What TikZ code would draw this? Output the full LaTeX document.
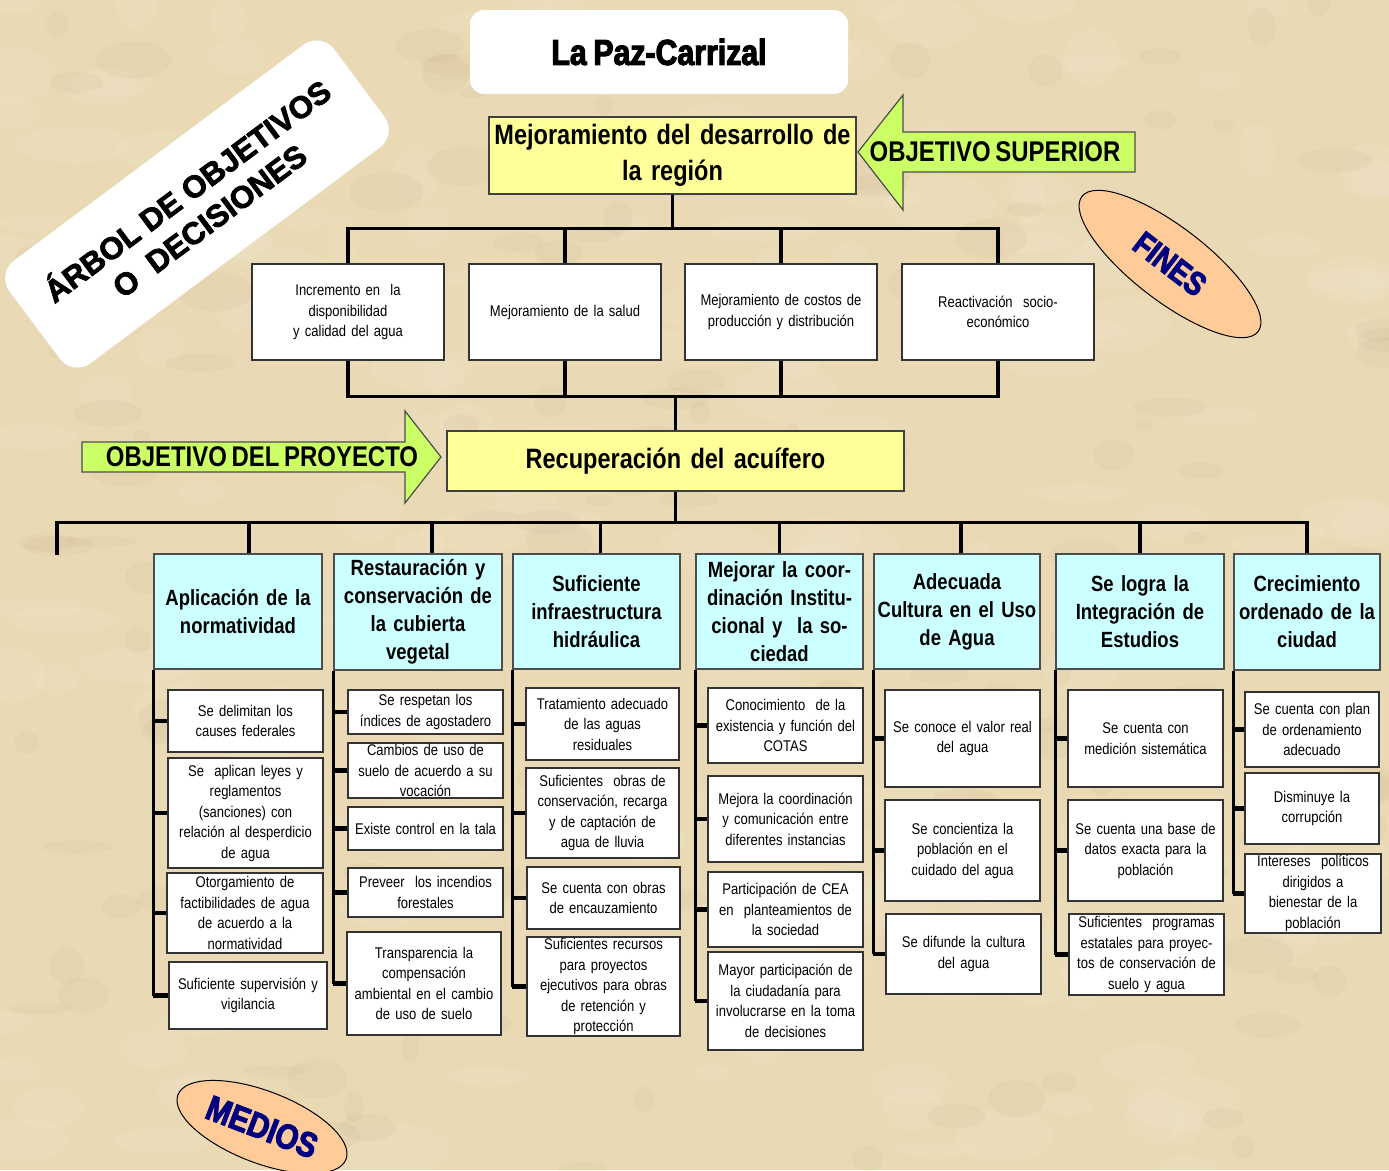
\documentclass[tikz,border=0pt]{standalone}
\usepackage{fontspec}
\setmainfont[FakeStretch=0.84,WordSpace=0.7]{Liberation Sans}
\newfontfamily\heavyN[FakeStretch=0.84,WordSpace=0.8,BoldFeatures={FakeBold=3}]{Liberation Sans}
\newfontfamily\heavyW[BoldFeatures={FakeBold=2.5}]{Liberation Sans}
\usetikzlibrary{shapes.geometric}
\definecolor{bgc}{RGB}{233,217,181}
\definecolor{yel}{RGB}{255,255,153}
\definecolor{cyanb}{RGB}{204,255,255}
\definecolor{grn}{RGB}{204,255,102}
\definecolor{peach}{RGB}{255,204,153}
\definecolor{navyb}{RGB}{0,0,128}
\newcommand\mybox[7]{%
 \pgfmathsetmacro\bxw{#5-(#3)}%
 \pgfmathsetmacro\bxh{#6-(#4)}%
 \pgfmathsetmacro\bxt{#5-(#3)-3}%
 \pgfmathsetmacro\bxcx{(#3+#5)/2}%
 \pgfmathsetmacro\bxcy{(#4+#6)/2}%
 \node[#1, minimum width=\bxw pt, minimum height=\bxh pt, text width=\bxt pt] (#2) at (\bxcx,\bxcy) {#7};}
\newcommand\mySpine[2]{\draw[spinest] (#1.south west) -- (#1.south west |- #2.west);}
\newcommand\myTick[2]{\draw[tickst] (#1.south west |- #2.west) -- (#2.west);}
\begin{document}
\begin{tikzpicture}[x=1pt,y=-1pt,
  conn/.style={line width=3.5pt,black},
  spinest/.style={line width=3pt,black},
  tickst/.style={line width=4.5pt,black},
  fbox/.style={draw=black!80,line width=1.2pt,fill=white,align=center,inner xsep=1pt,inner ysep=0pt,font=\fontsize{15.5}{20.5}\selectfont},
  hbox/.style={draw=black!70,line width=1.2pt,fill=cyanb,align=center,inner xsep=1pt,inner ysep=0pt,font=\bfseries\fontsize{22}{28}\selectfont},
  ybox/.style={draw=black!75,line width=1.2pt,fill=yel,align=center,inner xsep=1pt,inner ysep=0pt,font=\bfseries\fontsize{28}{36}\selectfont},
  arrowshape/.style={draw=black!70,line width=1.2pt,fill=grn},
  arrowtext/.style={font=\bfseries\fontsize{28.5}{30}\selectfont},
  oval/.style={ellipse,draw=black,line width=1pt,fill=peach,text=navyb}
]
\useasboundingbox (0,0) rectangle (1389,1170);
\fill[bgc] (0,0) rectangle (1389,1170);
\pgfmathsetseed{11}
\foreach \i in {1,...,220}{
  \pgfmathsetmacro\rx{rnd*1389}\pgfmathsetmacro\ry{rnd*1170}
  \pgfmathsetmacro\ra{15+rnd*45}\pgfmathsetmacro\rb{8+rnd*22}
  \fill[white,opacity=0.06] (\rx,\ry) ellipse [x radius=\ra pt,y radius=\rb pt];
}
\foreach \i in {1,...,160}{
  \pgfmathsetmacro\rx{rnd*1389}\pgfmathsetmacro\ry{rnd*1170}
  \pgfmathsetmacro\ra{8+rnd*30}\pgfmathsetmacro\rb{5+rnd*15}
  \fill[brown!60!black,opacity=0.035] (\rx,\ry) ellipse [x radius=\ra pt,y radius=\rb pt];
}

% title and labels
\node[fill=white,rounded corners=14pt,minimum width=378pt,minimum height=84pt,
  font=\heavyN\bfseries\fontsize{36}{40}\selectfont] (title) at (659,52) {La Paz-Carrizal};
\node[rotate=36.7,fill=white,rounded corners=22pt,minimum width=405pt,minimum height=128pt,
  align=center,font=\heavyW\bfseries\fontsize{31}{37}\selectfont] (arbol) at (197,204)
  {ÁRBOL DE OBJETIVOS\\O\ \ DECISIONES};
\node[oval,minimum width=222pt,minimum height=74pt,rotate=-37.5,
  font=\heavyN\bfseries\fontsize{33}{36}\selectfont] (fines) at (1170,264) {FINES};
\node[oval,minimum width=180pt,minimum height=72pt,rotate=-21,
  font=\heavyN\bfseries\fontsize{35}{38}\selectfont] (medios) at (262,1127) {MEDIOS};

% arrows
\draw[arrowshape] (858,152) -- (903,95) -- (903,132) -- (1135,132) -- (1135,172) -- (903,172) -- (903,210) -- cycle;
\node[arrowtext] (supl) at (995,152) {OBJETIVO SUPERIOR};
\draw[arrowshape] (82,442) -- (405,442) -- (405,411) -- (441,457) -- (405,503) -- (405,472) -- (82,472) -- cycle;
\node[arrowtext] (proyl) at (262,457) {OBJETIVO DEL PROYECTO};

% yellow boxes
\mybox{ybox}{top}{489}{117}{856}{194}{Mejoramiento del desarrollo de\\la región}
\mybox{ybox}{proj}{447}{431}{904}{491}{Recuperación del acuífero}

% fines boxes
\mybox{fbox}{f1}{252}{264}{444}{360}{Incremento en\ \ la\\disponibilidad\\y calidad del agua}
\mybox{fbox}{f2}{469}{264}{661}{360}{Mejoramiento de la salud}
\mybox{fbox}{f3}{685}{264}{877}{360}{Mejoramiento de costos de\\producción y distribución}
\mybox{fbox}{f4}{902}{264}{1094}{360}{Reactivación\ \ socio-\\económico}

% headers
\mybox{hbox}{h1}{154}{554}{322}{669}{Aplicación de la\\normatividad}
\mybox{hbox}{h2}{334}{554}{502}{670}{Restauración y\\conservación de\\la cubierta\\vegetal}
\mybox{hbox}{h3}{513}{554}{680}{669}{Suficiente\\infraestructura\\hidráulica}
\mybox{hbox}{h4}{696}{554}{863}{669}{Mejorar la coor-\\dinación Institu-\\cional y\ \ la so-\\ciedad}
\mybox{hbox}{h5}{874}{554}{1040}{669}{Adecuada\\Cultura en el Uso\\de Agua}
\mybox{hbox}{h6}{1056}{554}{1224}{669}{Se logra la\\Integración de\\Estudios}
\mybox{hbox}{h7}{1234}{554}{1380}{670}{Crecimiento\\ordenado de la\\ciudad}

% column 1
\mybox{fbox}{c1a}{168}{690}{323}{752}{Se delimitan los\\causes federales}
\mybox{fbox}{c1b}{168}{758}{323}{868}{Se\ \ aplican leyes y\\reglamentos\\(sanciones) con\\relación al desperdicio\\de agua}
\mybox{fbox}{c1c}{167}{873}{323}{953}{Otorgamiento de\\factibilidades de agua\\de acuerdo a la\\normatividad}
\mybox{fbox}{c1d}{169}{962}{327}{1029}{Suficiente supervisión y\\vigilancia}
% column 2
\mybox{fbox}{c2a}{348}{690}{503}{734}{Se respetan los\\índices de agostadero}
\mybox{fbox}{c2b}{348}{743}{503}{798}{Cambios de uso de\\suelo de acuerdo a su\\vocación}
\mybox{fbox}{c2c}{348}{807}{503}{850}{Existe control en la tala}
\mybox{fbox}{c2d}{348}{868}{503}{917}{Preveer\ \ los incendios\\forestales}
\mybox{fbox}{c2e}{347}{932}{501}{1035}{Transparencia la\\compensación\\ambiental en el cambio\\de uso de suelo}
% column 3
\mybox{fbox}{c3a}{526}{688}{679}{760}{Tratamiento adecuado\\de las aguas\\residuales}
\mybox{fbox}{c3b}{526}{768}{679}{858}{Suficientes\ \ obras de\\conservación, recarga\\y de captación de\\agua de lluvia}
\mybox{fbox}{c3c}{527}{867}{680}{929}{Se cuenta con obras\\de encauzamiento}
\mybox{fbox}{c3d}{527}{937}{680}{1036}{Suficientes recursos\\para proyectos\\ejecutivos para obras\\de retención y\\protección}
% column 4
\mybox{fbox}{c4a}{708}{688}{863}{763}{Conocimiento\ \ de la\\existencia y función del\\COTAS}
\mybox{fbox}{c4b}{708}{776}{863}{862}{Mejora la coordinación\\y comunicación entre\\diferentes instancias}
\mybox{fbox}{c4c}{708}{872}{863}{947}{Participación de CEA\\en\ \ planteamientos de\\la sociedad}
\mybox{fbox}{c4d}{708}{952}{863}{1050}{Mayor participación de\\la ciudadanía para\\involucrarse en la toma\\de decisiones}
% column 5
\mybox{fbox}{c5a}{885}{690}{1040}{787}{Se conoce el valor real\\del agua}
\mybox{fbox}{c5b}{885}{800}{1040}{901}{Se concientiza la\\población en el\\cuidado del agua}
\mybox{fbox}{c5c}{886}{914}{1041}{994}{Se difunde la cultura\\del agua}
% column 6
\mybox{fbox}{c6a}{1068}{690}{1223}{787}{Se cuenta con\\medición sistemática}
\mybox{fbox}{c6b}{1068}{800}{1223}{901}{Se cuenta una base de\\datos exacta para la\\población}
\mybox{fbox}{c6c}{1069}{914}{1224}{995}{Suficientes\ \ programas\\estatales para proyec-\\tos de conservación de\\suelo y agua}
% column 7
\mybox{fbox}{c7a}{1245}{692}{1379}{767}{Se cuenta con plan\\de ordenamiento\\adecuado}
\mybox{fbox}{c7b}{1245}{773}{1379}{844}{Disminuye la\\corrupción}
\mybox{fbox}{c7c}{1245}{854}{1381}{933}{Intereses\ \ políticos\\dirigidos a\\bienestar de la\\población}

% upper tree
\draw[conn] (top.south) -- ++(0,34) coordinate (tb);
\draw[conn] (f1.north) |- (tb) -| (f4.north);
\draw[conn] (f2.north) -- (f2.north |- tb);
\draw[conn] (f3.north) -- (f3.north |- tb);
\draw[conn] (proj.north) -- ++(0,-34) coordinate (pb);
\draw[conn] (f1.south) |- (pb) -| (f4.south);
\draw[conn] (f2.south) -- (f2.south |- pb);
\draw[conn] (f3.south) -- (f3.south |- pb);

% lower tree
\draw[conn] (proj.south) -- ++(0,31) coordinate (bb);
\coordinate (dl) at (57,555);
\draw[conn] (dl) |- (bb) -| (h7.north);
\foreach \h/\s in {h1/11,h2/14,h3/4,h4/0,h5/4,h6/0}{
  \draw[conn] ([xshift=\s pt]\h.north) -- ([xshift=\s pt]\h.north |- bb);
}

% spines and ticks
\mySpine{h1}{c1d}
\foreach \c in {c1a,c1b,c1c,c1d}{\myTick{h1}{\c}}
\mySpine{h2}{c2e}
\foreach \c in {c2a,c2b,c2c,c2d,c2e}{\myTick{h2}{\c}}
\mySpine{h3}{c3d}
\foreach \c in {c3a,c3b,c3c,c3d}{\myTick{h3}{\c}}
\mySpine{h4}{c4d}
\foreach \c in {c4a,c4b,c4c,c4d}{\myTick{h4}{\c}}
\mySpine{h5}{c5c}
\foreach \c in {c5a,c5b,c5c}{\myTick{h5}{\c}}
\mySpine{h6}{c6c}
\foreach \c in {c6a,c6b,c6c}{\myTick{h6}{\c}}
\mySpine{h7}{c7c}
\foreach \c in {c7a,c7b,c7c}{\myTick{h7}{\c}}
\end{tikzpicture}
\end{document}
